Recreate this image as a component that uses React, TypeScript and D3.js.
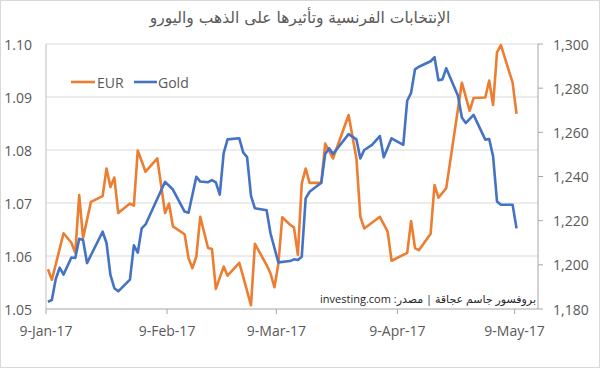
import React from "react";
import * as d3 from "d3";

const eurDates = [
  "2017-01-09","2017-01-10","2017-01-13","2017-01-15","2017-01-16","2017-01-17","2017-01-18","2017-01-20","2017-01-23","2017-01-24",
  "2017-01-25","2017-01-26","2017-01-27","2017-01-30","2017-01-31","2017-02-01","2017-02-03","2017-02-06","2017-02-08","2017-02-09",
  "2017-02-10","2017-02-13","2017-02-14","2017-02-15","2017-02-16","2017-02-17","2017-02-19","2017-02-20","2017-02-21","2017-02-23",
  "2017-02-24","2017-02-27","2017-02-28","2017-03-02","2017-03-03","2017-03-06","2017-03-07","2017-03-08","2017-03-09","2017-03-10",
  "2017-03-12","2017-03-13","2017-03-14","2017-03-15","2017-03-16","2017-03-17","2017-03-20","2017-03-21","2017-03-23","2017-03-27",
  "2017-03-29","2017-03-30","2017-03-31","2017-04-04","2017-04-06","2017-04-07","2017-04-11","2017-04-12","2017-04-13","2017-04-14",
  "2017-04-17","2017-04-18","2017-04-19","2017-04-21","2017-04-25","2017-04-27","2017-04-28","2017-05-01","2017-05-02","2017-05-03",
  "2017-05-04","2017-05-05","2017-05-08","2017-05-09",
];
const eurValues = [
  1.0575, 1.0555, 1.0643, 1.0625, 1.0606, 1.0715, 1.0634, 1.0702, 1.0713, 1.0765,
  1.0730, 1.0748, 1.0681, 1.0699, 1.0695, 1.0799, 1.0759, 1.0784, 1.0681, 1.0699,
  1.0656, 1.0641, 1.0596, 1.0577, 1.0599, 1.0674, 1.0615, 1.0613, 1.0538, 1.0580,
  1.0563, 1.0587, 1.0561, 1.0507, 1.0623, 1.0583, 1.0567, 1.0541, 1.0585, 1.0673,
  1.0659, 1.0654, 1.0602, 1.0737, 1.0765, 1.0738, 1.0738, 1.0812, 1.0784, 1.0866,
  1.0784, 1.0674, 1.0652, 1.0674, 1.0646, 1.0591, 1.0606, 1.0666, 1.0615, 1.0611,
  1.0642, 1.0734, 1.0710, 1.0728, 1.0927, 1.0874, 1.0898, 1.0899, 1.0931, 1.0885,
  1.0984, 1.0998, 1.0927, 1.0868,
];

const goldDates = [
  "2017-01-09","2017-01-10","2017-01-11","2017-01-12","2017-01-13","2017-01-15","2017-01-16","2017-01-17","2017-01-18","2017-01-19",
  "2017-01-23","2017-01-24","2017-01-25","2017-01-26","2017-01-27","2017-01-30","2017-01-31","2017-02-01","2017-02-02","2017-02-03",
  "2017-02-08","2017-02-10","2017-02-13","2017-02-14","2017-02-16","2017-02-17","2017-02-19","2017-02-20","2017-02-21","2017-02-22",
  "2017-02-23","2017-02-24","2017-02-27","2017-02-28","2017-03-01","2017-03-02","2017-03-03","2017-03-06","2017-03-07","2017-03-09",
  "2017-03-12","2017-03-13","2017-03-14","2017-03-15","2017-03-16","2017-03-17","2017-03-20","2017-03-21","2017-03-22","2017-03-23",
  "2017-03-27","2017-03-29","2017-03-30","2017-03-31","2017-04-02","2017-04-04","2017-04-05","2017-04-07","2017-04-10","2017-04-11",
  "2017-04-12","2017-04-13","2017-04-14","2017-04-17","2017-04-18","2017-04-19","2017-04-20","2017-04-21","2017-04-24","2017-04-25",
  "2017-04-26","2017-04-28","2017-05-01","2017-05-02","2017-05-03","2017-05-04","2017-05-05","2017-05-08","2017-05-09",
];
const goldValues = [
  1183.3, 1184.1, 1193.6, 1198.7, 1195.6, 1203.3, 1203.1, 1211.8, 1211.2, 1200.8,
  1215.0, 1209.9, 1195.4, 1189.4, 1188.0, 1193.3, 1208.8, 1205.5, 1216.5, 1218.3,
  1237.6, 1234.1, 1224.1, 1223.6, 1239.9, 1237.7, 1237.4, 1238.4, 1237.3, 1231.8,
  1250.6, 1256.8, 1257.3, 1250.9, 1248.8, 1231.2, 1225.6, 1224.7, 1214.2, 1201.1,
  1201.7, 1202.5, 1202.2, 1203.7, 1230.1, 1233.1, 1237.2, 1250.2, 1252.8, 1250.2,
  1259.2, 1256.8, 1248.2, 1252.0, 1254.3, 1258.3, 1248.7, 1257.3, 1254.3, 1274.3,
  1277.9, 1288.5, 1289.7, 1292.2, 1294.0, 1283.6, 1283.9, 1289.0, 1276.6, 1266.7,
  1264.2, 1267.9, 1256.7, 1257.0, 1249.1, 1228.7, 1227.2, 1227.2, 1216.5,
];

const xTickDates = ["2017-01-09", "2017-02-09", "2017-03-09", "2017-04-09", "2017-05-09"];
const eurTicks = [1.05, 1.06, 1.07, 1.08, 1.09, 1.1];
const goldTicks = [1180, 1200, 1220, 1240, 1260, 1280, 1300];
const seriesNames = ["EUR", "Gold"];
const titleText = "الإنتخابات الفرنسية وتأثيرها على الذهب واليورو";
const sourceText = "بروفسور جاسم عجاقة | مصدر: investing.com";

const W = 600;
const H = 368;
const EUR_COLOR = "#ED7D31";
const GOLD_COLOR = "#4472C4";
const TEXT = "#595959";
const FONT = "'Open Sans', 'DejaVu Sans', sans-serif";

export default function App() {
  const parse = d3.timeParse("%Y-%m-%d");
  const left = 46, right = 538, top = 44, bottom = 309;
  const x = d3.scaleTime().domain([parse("2017-01-09")!, parse("2017-05-15")!]).range([left, right]);
  const yL = d3.scaleLinear().domain([1.05, 1.1]).range([bottom, top]);
  const yR = d3.scaleLinear().domain([1180, 1300]).range([bottom, top]);
  const mid = (s: string) => d3.timeHour.offset(parse(s)!, 12);
  const fmtDate = d3.timeFormat("%-d-%b-%y");
  const fmtEur = d3.format(".2f");
  const fmtGold = d3.format(",");

  const eurPath = d3.line<number>()
    .x((_, i) => x(mid(eurDates[i])))
    .y((v) => yL(v))(eurValues) || "";
  const goldPath = d3.line<number>()
    .x((_, i) => x(mid(goldDates[i])))
    .y((v) => yR(v))(goldValues) || "";

  return (
    <svg width={W} height={H} style={{ position: "absolute", left: 0, top: 0, background: "#fff" }}>
      <rect x={0.5} y={0.5} width={W - 1} height={H - 1} fill="#fff" stroke="#d9d9d9" />
      <text x={300} y={18} textAnchor="middle" dominantBaseline="central" fontFamily="'DejaVu Sans', sans-serif" fontSize={15.5} fill={TEXT}>
        {titleText}
      </text>
      {eurTicks.slice(1).map((t) => (
        <line key={t} x1={left} x2={right} y1={yL(t)} y2={yL(t)} stroke="#d9d9d9" strokeWidth={1} />
      ))}
      <line x1={left} x2={left} y1={top} y2={bottom} stroke="#bfbfbf" />
      <line x1={right} x2={right} y1={top} y2={bottom} stroke="#a6a6a6" />
      <line x1={left} x2={right} y1={bottom} y2={bottom} stroke="#a6a6a6" />
      {goldTicks.map((t) => (
        <g key={t}>
          <line x1={right} x2={right + 5} y1={yR(t)} y2={yR(t)} stroke="#a6a6a6" />
          <text x={553} y={yR(t)} dominantBaseline="central" fontFamily={FONT} fontSize={14} fill={TEXT}>
            {fmtGold(t)}
          </text>
        </g>
      ))}
      {eurTicks.map((t) => (
        <text key={t} x={32} y={yL(t)} textAnchor="end" dominantBaseline="central" fontFamily={FONT} fontSize={14} fill={TEXT}>
          {fmtEur(t)}
        </text>
      ))}
      {xTickDates.map((s) => (
        <g key={s}>
          <line x1={x(parse(s)!)} x2={x(parse(s)!)} y1={bottom} y2={bottom + 5} stroke="#a6a6a6" />
          <text x={x(parse(s)!)} y={330} textAnchor="middle" dominantBaseline="central" fontFamily={FONT} fontSize={14} fill={TEXT}>
            {fmtDate(parse(s)!)}
          </text>
        </g>
      ))}
      <path d={eurPath} fill="none" stroke={EUR_COLOR} strokeWidth={2.6} strokeLinejoin="round" />
      <path d={goldPath} fill="none" stroke={GOLD_COLOR} strokeWidth={2.6} strokeLinejoin="round" />
      <g>
        <line x1={71} x2={95} y1={82} y2={82} stroke={EUR_COLOR} strokeWidth={2.6} />
        <text x={97} y={82} dominantBaseline="central" fontFamily={FONT} fontSize={14} fill={TEXT}>{seriesNames[0]}</text>
        <line x1={134} x2={157} y1={82} y2={82} stroke={GOLD_COLOR} strokeWidth={2.6} />
        <text x={158} y={82} dominantBaseline="central" fontFamily={FONT} fontSize={14} fill={TEXT}>{seriesNames[1]}</text>
      </g>
      <text x={536} y={298} direction="rtl" textAnchor="start" dominantBaseline="central" fontFamily={FONT} fontSize={11} fill="#262626">
        {sourceText}
      </text>
    </svg>
  );
}
